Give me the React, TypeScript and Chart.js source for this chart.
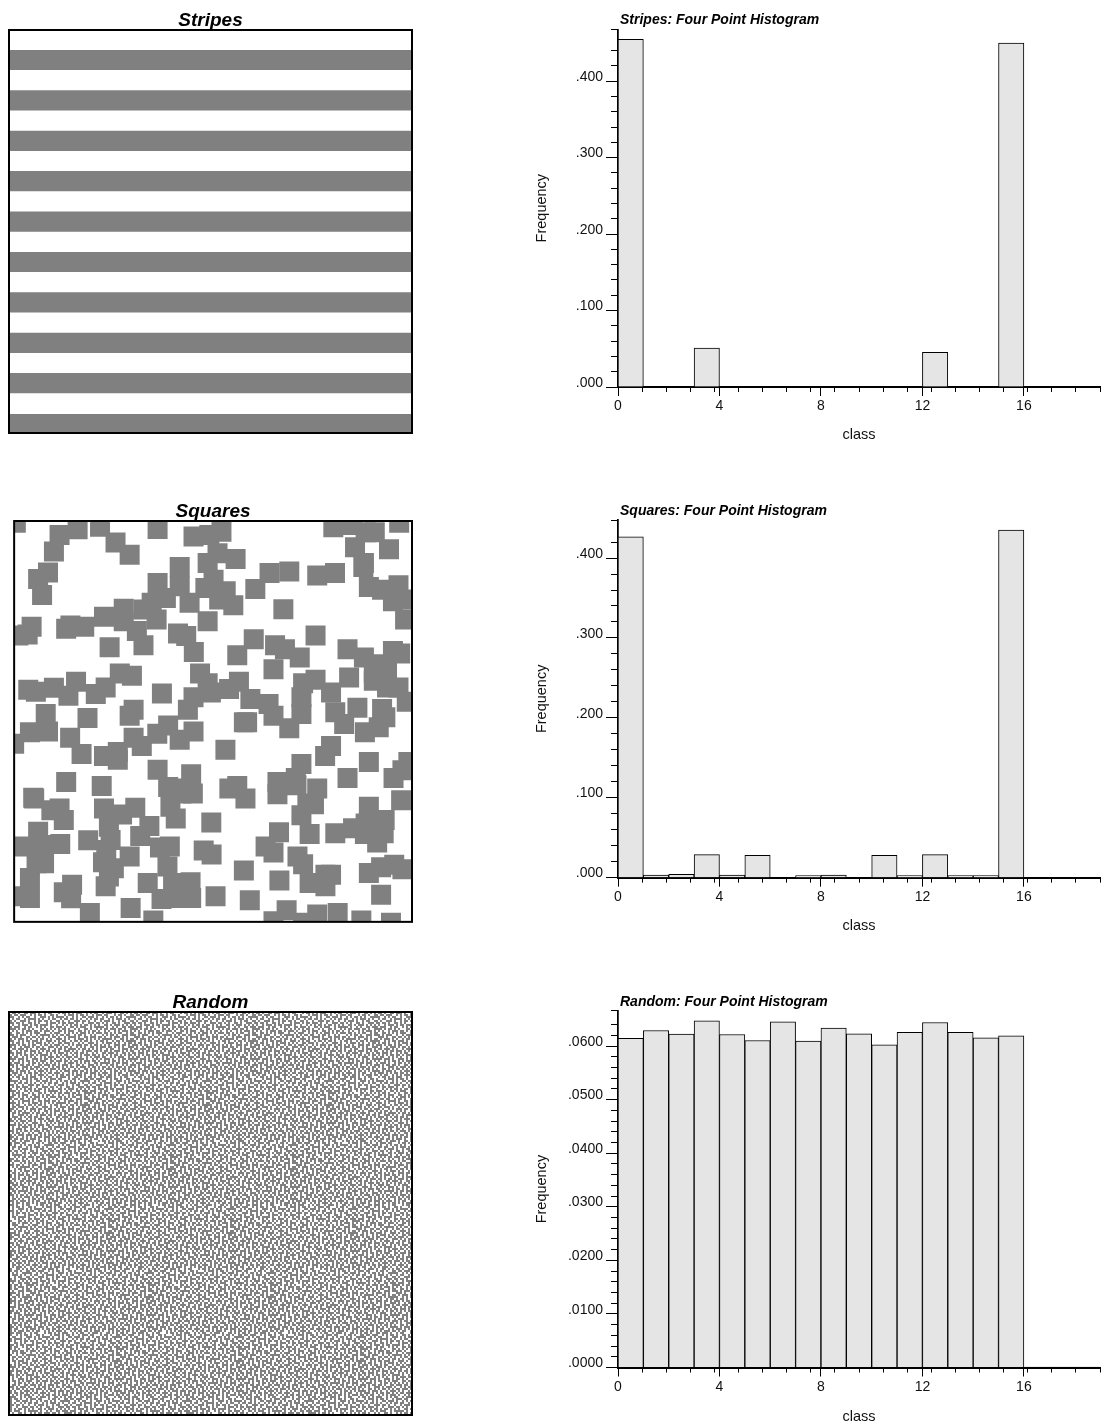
import React, { useEffect, useRef } from "react";
import { Chart, registerables } from "chart.js";

Chart.register(...registerables);

const FONT = "'Liberation Sans', Arial, sans-serif";
const GREY = "#808080";
const BAR_FILL = "#e5e5e5";

const classes = [0, 1, 2, 3, 4, 5, 6, 7, 8, 9, 10, 11, 12, 13, 14, 15, 16, 17, 18];
const stripesHist = [0.455, 0, 0, 0.051, 0, 0, 0, 0, 0, 0, 0, 0, 0.0454, 0, 0, 0.45, 0, 0, 0];
const squaresHist = [0.4264, 0.0034, 0.0042, 0.0288, 0.0034, 0.028, 0, 0.0025, 0.0034, 0, 0.028, 0.0025, 0.0288, 0.0025, 0.0025, 0.435, 0, 0, 0];
const randomHist = [0.06142, 0.06291, 0.06222, 0.0647, 0.06216, 0.06104, 0.06452, 0.06092, 0.06334, 0.06228, 0.06023, 0.06254, 0.0644, 0.06254, 0.06153, 0.0619, 0.0001, 0.0001, 0.0001];

const stripeCentres = [30, 70.4, 110.8, 151.2, 191.6, 232, 272.4, 312.8, 353.2, 394];

const squareCentres: [number, number][] = [
  [0.7, 1.7], [45, 14], [63.3, 8.3], [86, 5.7], [101.7, 21.7], [116, 34], [144.3, 8], [39.3, 30.7], [33.3, 51.7], [23.3, 58.3],
  [27.3, 74.3], [166.7, 46.3], [144.3, 62.3], [180.7, 15.7], [196.7, 14], [205, 32.3], [195, 42.3], [192.7, 67.3], [166.7, 65.7], [176.7, 82.3],
  [206.7, 79], [138.3, 82.3], [110, 88.3], [90, 96.3], [152.7, 77.3], [130, 89], [143.3, 99], [110, 100.7], [123.3, 110.7], [130, 125],
  [165, 113], [173.3, 115.7], [181, 131.7], [70, 106.3], [51.7, 108.3], [56, 105], [16.7, 106.3], [12.7, 114], [3.3, 115], [95.7, 127], [195, 100.7],
  [209, 10.7], [223.3, 38.3], [213.3, 70.7], [221, 84.7], [201, 59], [243.3, 68.3], [257.7, 52.3], [277.7, 50.7], [306, 54.7], [324, 52.3],
  [271.7, 88.7], [304.3, 115], [241.7, 119], [225, 135], [263.3, 125], [273.3, 129], [288.3, 137.3], [336.7, 129], [353.3, 137.3], [382.7, 130.7],
  [390, 133.3], [371.7, 144], [322.3, 6.3], [341.7, 4], [364.3, 11.3], [355, 11.3], [389, 1.7], [378.7, 28.3], [344.3, 26.3], [353.3, 42.3],
  [352.7, 46.3], [358.3, 66.3], [371.7, 69], [388.3, 64.7], [382.7, 80.7], [395, 79], [395, 99],
  [261.7, 149], [363.3, 152.3], [376.7, 149], [338.3, 157.3], [363.3, 160.7], [376.7, 167.3], [388.3, 167.3], [396.7, 181.7], [371.7, 189], [375, 197.3],
  [346.7, 187.7], [333.3, 204], [324.3, 192.3], [320, 172.3], [304.3, 159.7], [291.7, 163], [290, 177.3], [290, 194], [277.7, 208.3], [261.7, 195.7],
  [256.7, 184], [238.3, 179], [226.7, 161.7], [216.7, 169], [195, 163], [187.3, 153.3], [198.3, 172.3], [180.7, 177.3], [175, 189.7], [231.7, 202.3],
  [235, 202.3], [148.7, 173.3], [120, 189.7], [116, 195.7], [73.3, 198], [13.3, 169.7], [21, 171.7], [39.3, 167.7], [54, 175.7], [61.7, 161.7],
  [81.7, 174], [91.7, 167.3], [106, 153.3], [118.3, 155.7], [31, 194], [15, 212.3], [33.3, 211.7], [-1, 224], [55.7, 218], [67.3, 234.3],
  [90, 236.3], [104, 232.3], [104, 240], [120, 218], [128.3, 226.3], [144, 214], [155, 205.7], [166.7, 220], [180.7, 211.7], [213, 230],
  [320, 226.3], [314, 236.3], [354.3, 212.3], [368.3, 207.3], [358.3, 242.3], [398.3, 242.3], [392.3, 250.7], [383.3, 258.3], [336.7, 258.3], [290, 244.3],
  [284.3, 258.3], [265.7, 262.3], [306, 269], [225, 266.3], [217, 269], [178.3, 254.7], [144.3, 250], [165, 269], [51.7, 262.3], [87.7, 266.3], [18.3, 278.3],
  [19.3, 279], [90, 289], [121.7, 288.3], [108.3, 295], [95, 307.3], [136, 306.7], [126.7, 316.7], [74, 321], [96.7, 320.7], [89, 343],
  [92.3, 330.7], [116, 337.3], [91.7, 367.3], [100, 349], [95, 357.3], [156.7, 327.3], [146.7, 328.3], [154.3, 347.3], [134.3, 364], [160, 364],
  [148.3, 380], [177.7, 363.3], [178.3, 379], [165, 379], [155, 267.3], [180, 274], [168.3, 274], [157.3, 287.3], [162.7, 299], [198.7, 303],
  [191, 331.3], [199, 335.3], [231.7, 351.3], [203, 377.3], [237.7, 381.3], [267.7, 361.3], [233.3, 279], [265.7, 274.7], [285, 265.7], [302.7, 284.7],
  [296, 284], [290, 295.7], [298.3, 314.7], [267.3, 313], [253.7, 327.3], [261.7, 333.3], [286, 337.3], [291.7, 345], [298.3, 364], [320, 355.7],
  [314.3, 355.7], [314.3, 367.3], [324.3, 314], [342.3, 309], [354.3, 314.7], [358.3, 287.3], [355, 304], [374.3, 300.7], [373.3, 314], [366.7, 323.3],
  [391, 280.7], [370.7, 348], [384, 345.7], [392.3, 350], [358.3, 354], [370.7, 375.7], [350.7, 401.7], [380.7, 404], [275, 391.3], [261.7, 402.3],
  [306, 395.7], [326.7, 394], [291.7, 404], [140, 401.7], [117, 389], [75.7, 394], [49.3, 373.3], [57.7, 365.7], [56.7, 379.3], [15, 359],
  [15, 379], [3.3, 377.3], [29.3, 344], [21.7, 344], [10, 327.3], [29, 325.7], [45.7, 324.7], [23.3, 312.3], [49.3, 300.7], [45, 289], [36.7, 290.7],
];

const randomRows = [
  ".##.#..##.###.#..#.##...#.##.#.#.###..#.#.##..#.###.#..##.#.#",
  "#.##.###..#.#.##.#..##.#...#.###.#.##.#..#.###.##...#.##.#..#",
  "##..#.#.##..#..###.#.#.####.#..#.#..##.###.#..#.#.##.#.#..###",
  ".#.##..#.####.#.#..#.##..#.##.##.#.#..#.#.##.##..#.#.###.#.#.",
  "#.#..###.#..#.##.##.#..##.#..#..###.##.#..#..#.###.#..#.##..#",
  "##.##.#..##.#.#...#.###.#.##.###.#..#..###.##.#.#..##.#..###.",
  ".#..#.###.#.##.####.#..#..#.#.#.##.#.##.#.#.#..##.#.###.#.#.#",
  "#.###..#.##..#.#.#..##.###.#..##.#.###..#.#####.#..#.#..##.##",
  "###.#.##.#.#...##.#.#.#.#.##.#..#.#..##.#..#.#.##.###.##.#..#",
  ".#.#..#.###.##.#.###.#..##.#.###..##.#.#.##.#..#.#..#.#.###.#",
  "#..##.#.#.#.###..#..#.###..#.#.#.#.###.#.#.###.##.#.#.##..#.#",
  "##.#.###..#..#.#####.#.#.##.##..#.##.#..#.#...#.#.##.#..###.#",
  ".###.#..##.##.#.#..#.##.#..#.####.#..##.###.##.#..#.###.#.#..",
  "#.#.###.#.#..#.##.#.#..###.#.#..#.###.#.#.#.#.#####.#..##.#.#",
  "##..#.#.##.###.#..###.#.#.##..#.##.#.##.#..#.##.#..#.##.#.###",
  ".#.##.#..#.#.###.#.#.#..##.###.#..#.#..###.#..#.###.#.#..#.##",
  "###.#.##.#.##..#.##.#.###.#..#.#.###.##.#.##.#.#.#..###.##.#.",
  "#.#..#.###.#.##.#..###.#.#.##.#..#.#.#..##.#.###.##.#.#.#..##",
  ".##.###.#.#..#.###.#..#.##.#.####.#.##.#.#.#.#..#.##..#.###.#",
  "#..#.#.##.###.#.#.##.##.#..###.#.#..#.###.##.#.##.#.###.#.#.#",
  "##.###.#..#.#.##..#.#.#.###.#.#.##.##.#..#.#..##.###.#..##.#.",
  ".#.#.#.##.##.#.####.#..#.#.##..#.#.#.###.##.#.#.#.#.##.#.#.##",
  "#.##..#.#.#.#..#.#.###.##.#.###.##.#..#.#.###.##..#.#.###..#.",
  "###.###.#..###.#.##.#.#..#.#.#.#..###.#..#.#.#.###.#..#.##.##",
  ".#..#.#.##.#.#.###..##.###.##.#.##.#.###.##.#..#.#.##.#.#.#.#",
  "#.###.#..#.##.#.#.#.#.#.#..#.###.#.#.#.#..##.#####.#.##.###..",
  "##.#.##.##.#..##.###.##.#.###.#..##.#..###.#.#..#.##.#..#.#.#",
  ".#.#..###.#.###.#..#.#.##.#.#.##.#.###.#.##.#.##.#.#.###.#.##",
  "#..##.#.#.##.#.#.##.###.#.##.#..#.#..##.#.#.#.#.###.#.#.##.#.",
  "##.#.###.#..#.###.#.#..#.#.###.###.##.#.#.##.#.#..#.##.#.#.##",
  ".###.#.#.##.##.#.#.##.###.#..#.#.#.#.##.###.#.###.#.#.##..#.#",
  "#.#.##..#.#.#.###.#..#.#.##.##.#.###.#..#.#.##.#.##.#.#.###.#",
];
const tileColumnShifts = [0, 23, 41, 11, 52, 7, 33, 18];

const randomCells: { x: number; y: number }[] = [];
for (let r = 0; r < 201; r++) {
  const rowCount = randomRows.length;
  const tile = Math.floor(r / rowCount);
  const row = randomRows[r % rowCount];
  const shift = tileColumnShifts[tile % tileColumnShifts.length];
  for (let c = 0; c < 201; c++) {
    if (row[(c + shift) % row.length] === "#") randomCells.push({ x: c * 2 + 1, y: r * 2 + 1 });
  }
}

const framePlugin = {
  id: "frame",
  afterDatasetsDraw(chart: any) {
    const { left, right, top, bottom } = chart.chartArea;
    const ctx = chart.ctx;
    ctx.save();
    ctx.strokeStyle = "#000";
    ctx.lineWidth = 2;
    ctx.strokeRect(left, top, right - left, bottom - top);
    ctx.restore();
  },
};

const titleNudgePlugin = {
  id: "titleNudge",
  afterLayout(chart: any) {
    chart.titleBlock.left += 2;
    chart.titleBlock.right += 2;
  },
};

const CANVAS_H = 445;

function imageConfig(title: string, type: string, datasets: any[], extra: any = {}) {
  return {
    type,
    data: { datasets },
    plugins: [framePlugin],
    options: {
      animation: false,
      responsive: false,
      events: [],
      ...extra,
      layout: { padding: { left: 9, right: 28, top: 0, bottom: 12 } },
      plugins: {
        legend: { display: false },
        tooltip: { enabled: false },
        title: {
          display: true,
          text: title,
          fullSize: false,
          color: "#000",
          font: { family: FONT, size: 19, weight: "bold", style: "italic", lineHeight: 1 },
          padding: { top: 11, bottom: 0 },
        },
      },
      scales: {
        x: { type: "linear", min: -1, max: 402, display: false, offset: false, grid: { offset: false } },
        y: { type: "linear", min: 0, max: 403, reverse: true, display: false, offset: false, grid: { offset: false } },
      },
    },
  };
}

function histConfig(title: string, values: number[], opt: { yMax: number; major: number; minor: number; decimals: number; baseline: number; plotTop: number }) {
  const tickFont = { family: FONT, size: 14 };
  return {
    type: "bar",
    data: {
      datasets: [
        {
          data: classes.map((c, i) => ({ x: c + 0.5, y: values[i] })),
          backgroundColor: BAR_FILL,
          borderColor: "#000",
          borderWidth: 1,
          barPercentage: 1,
          categoryPercentage: 1,
          xAxisID: "x",
          yAxisID: "y",
        },
      ],
    },
    plugins: [titleNudgePlugin],
    options: {
      animation: false,
      responsive: false,
      events: [],
      layout: { padding: { left: 0, right: 7, top: 0, bottom: 0 } },
      plugins: {
        legend: { display: false },
        tooltip: { enabled: false },
        title: {
          display: true,
          text: title,
          fullSize: false,
          align: "start",
          color: "#000",
          font: { family: FONT, size: 14, weight: "bold", style: "italic", lineHeight: 1 },
          padding: { top: 13, bottom: opt.plotTop - 27 },
        },
      },
      scales: {
        x: {
          type: "linear",
          axis: "x",
          position: "bottom",
          weight: 1,
          min: 0,
          max: 19,
          offset: false,
          afterFit: (s: any) => { s.height = CANVAS_H - opt.baseline; },
          border: { color: "#000", width: 2 },
          grid: { offset: false, drawOnChartArea: false, tickLength: 9, tickColor: "#000", tickWidth: 1 },
          ticks: { stepSize: 4, includeBounds: false, autoSkip: false, maxRotation: 0, padding: 2, color: "#111", font: tickFont },
          title: { display: true, text: "class", color: "#111", font: { family: FONT, size: 14.5, lineHeight: 1 }, padding: { top: 0, bottom: 3 } },
        },
        xMinor: {
          type: "linear",
          axis: "x",
          position: "bottom",
          weight: 0,
          min: 0,
          max: 19,
          afterFit: (s: any) => { s.height = 0; },
          border: { color: "#000", width: 2 },
          grid: { drawOnChartArea: false, tickLength: 5, tickColor: "#000", tickWidth: 1 },
          ticks: { stepSize: 1, display: false, autoSkip: false },
        },
        y: {
          type: "linear",
          axis: "y",
          position: "left",
          weight: 1,
          min: 0,
          max: opt.yMax,
          afterFit: (s: any) => { s.width = 88; },
          border: { color: "#000", width: 1.5 },
          grid: { drawOnChartArea: false, tickLength: 12, tickColor: "#000", tickWidth: 1 },
          ticks: {
            stepSize: opt.major,
            includeBounds: false,
            autoSkip: false,
            padding: 3,
            color: "#111",
            font: { ...tickFont, lineHeight: 0.6 },
            callback: (v: any) => [Number(v).toFixed(opt.decimals).slice(1), ""],
          },
          title: { display: true, text: "Frequency", color: "#111", font: { family: FONT, size: 14.5, lineHeight: 1 }, padding: { top: 5, bottom: 0 } },
        },
        yMinor: {
          type: "linear",
          axis: "y",
          position: "left",
          weight: 0,
          min: 0,
          max: opt.yMax,
          afterFit: (s: any) => { s.width = 0; },
          border: { color: "#000", width: 1.5 },
          grid: { drawOnChartArea: false, tickLength: 7, tickColor: "#000", tickWidth: 1 },
          ticks: { stepSize: opt.minor, display: false, autoSkip: false },
        },
      },
    },
  };
}

function Panel({ left, top, width, config }: { left: number; top: number; width: number; config: any }) {
  const ref = useRef<HTMLCanvasElement>(null);
  useEffect(() => {
    const chart = new Chart(ref.current as HTMLCanvasElement, config);
    return () => chart.destroy();
  }, [config]);
  return <canvas ref={ref} width={width} height={CANVAS_H} style={{ position: "absolute", left, top, width, height: CANVAS_H, display: "block" }} />;
}

const point = { pointStyle: "rect", backgroundColor: GREY, borderWidth: 0, pointBorderWidth: 0, pointBackgroundColor: GREY };

const configs = [
  {
    left: 0,
    top: 0,
    width: 440,
    config: imageConfig(
      "Stripes",
      "bar",
      [{ data: stripeCentres.map((c) => ({ y: c, x: [-1, 402] })), backgroundColor: GREY, borderWidth: 0, barPercentage: 1, categoryPercentage: 0.5 }],
      { indexAxis: "y" },
    ),
  },
  {
    left: 530,
    top: 0,
    width: 577,
    config: histConfig("Stripes: Four Point Histogram", stripesHist, { yMax: 0.468, major: 0.1, minor: 0.02, decimals: 3, baseline: 387, plotTop: 29.3 }),
  },
  {
    left: 0,
    top: 491,
    width: 440,
    config: imageConfig("Squares", "scatter", [
      { ...point, data: squareCentres.map(([x, y]) => ({ x, y })), pointRadius: 14.142 },
    ]),
  },
  {
    left: 530,
    top: 491,
    width: 577,
    config: histConfig("Squares: Four Point Histogram", squaresHist, { yMax: 0.4476, major: 0.1, minor: 0.02, decimals: 3, baseline: 386.7, plotTop: 29 }),
  },
  {
    left: 0,
    top: 982,
    width: 440,
    config: imageConfig("Random", "scatter", [
      { ...point, data: randomCells, pointRadius: 1.4143 },
    ]),
  },
  {
    left: 530,
    top: 982,
    width: 577,
    config: histConfig("Random: Four Point Histogram", randomHist, { yMax: 0.0666, major: 0.01, minor: 0.002, decimals: 4, baseline: 385.5, plotTop: 28.7 }),
  },
];

export default function App() {
  return (
    <div style={{ position: "absolute", left: 0, top: 0, width: 1107, height: 1427, overflow: "hidden", background: "#fff" }}>
      {configs.map((c, i) => (
        <Panel key={i} left={c.left} top={c.top} width={c.width} config={c.config} />
      ))}
    </div>
  );
}
